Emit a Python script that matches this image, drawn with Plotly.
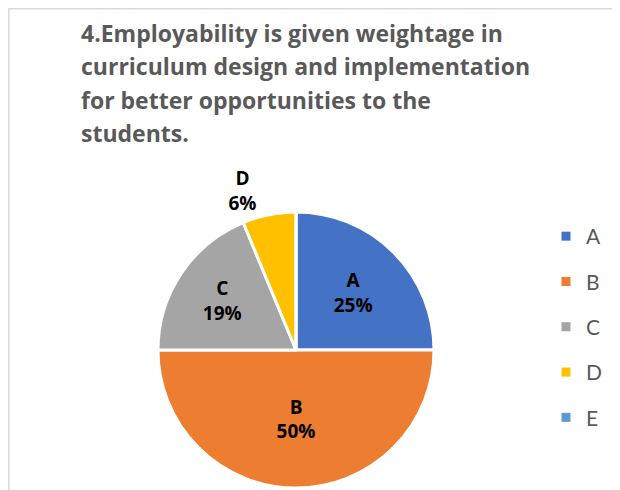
import plotly.graph_objects as go

W, H = 620, 490
OFF = 8  # page body margin in the viewer


def px(x):
    return (x - OFF) / W


def py(y):
    return 1 - (y - OFF) / H


categories = ["A", "B", "C", "D", "E"]
counts = [4, 8, 3, 1, 0]
colors = ["#4472C4", "#ED7D31", "#A5A5A5", "#FFC000", "#5B9BD5"]
title_lines = [
    "4.Employability is given weightage in",
    "curriculum design and implementation",
    "for better opportunities to the",
    "students.",
]

fig = go.Figure()

fig.add_trace(go.Pie(
    labels=categories,
    values=counts,
    sort=False,
    direction="clockwise",
    rotation=0,
    marker=dict(colors=colors, line=dict(color="white", width=3)),
    texttemplate="<b>%{label}<br>%{percent:.0%}</b>",
    textposition=["inside", "inside", "inside", "outside", "none"],
    insidetextorientation="horizontal",
    textfont=dict(family="Open Sans", size=19, color="black"),
    showlegend=False,
    hoverinfo="label+percent",
    domain=dict(x=[px(158), px(434)], y=[py(488), py(212)]),
))

# legend entries
for c, col in zip(categories, colors):
    fig.add_trace(go.Scatter(
        x=[None], y=[None], mode="markers", name=c,
        legendgroup=c,
        marker=dict(symbol="square", size=9, color=col),
        showlegend=True,
    ))

annotations = []
for i, line in enumerate(title_lines):
    annotations.append(dict(
        text="<b>" + line + "</b>",
        x=px(79), y=py(33 + 33.3 * i),
        xref="paper", yref="paper", xanchor="left", yanchor="middle",
        showarrow=False,
        font=dict(family="Open Sans", size=23, color="#595959"),
    ))

fig.update_layout(
    width=W, height=H,
    margin=dict(l=0, r=0, t=0, b=0),
    paper_bgcolor="white", plot_bgcolor="white",
    xaxis=dict(visible=False), yaxis=dict(visible=False),
    annotations=annotations,
    legend=dict(
        x=px(546), y=py(216), xanchor="left", yanchor="top",
        font=dict(family="Lato", size=21, color="#595959"),
        tracegroupgap=15,
        bgcolor="rgba(0,0,0,0)",
    ),
    shapes=[dict(type="rect", xref="paper", yref="paper",
                 x0=0.8 / W, x1=px(617.5), y0=-0.1, y1=1 - 0.8 / H,
                 line=dict(color="#D9D9D9", width=1.5))],
)

fig.write_html("out.html")
